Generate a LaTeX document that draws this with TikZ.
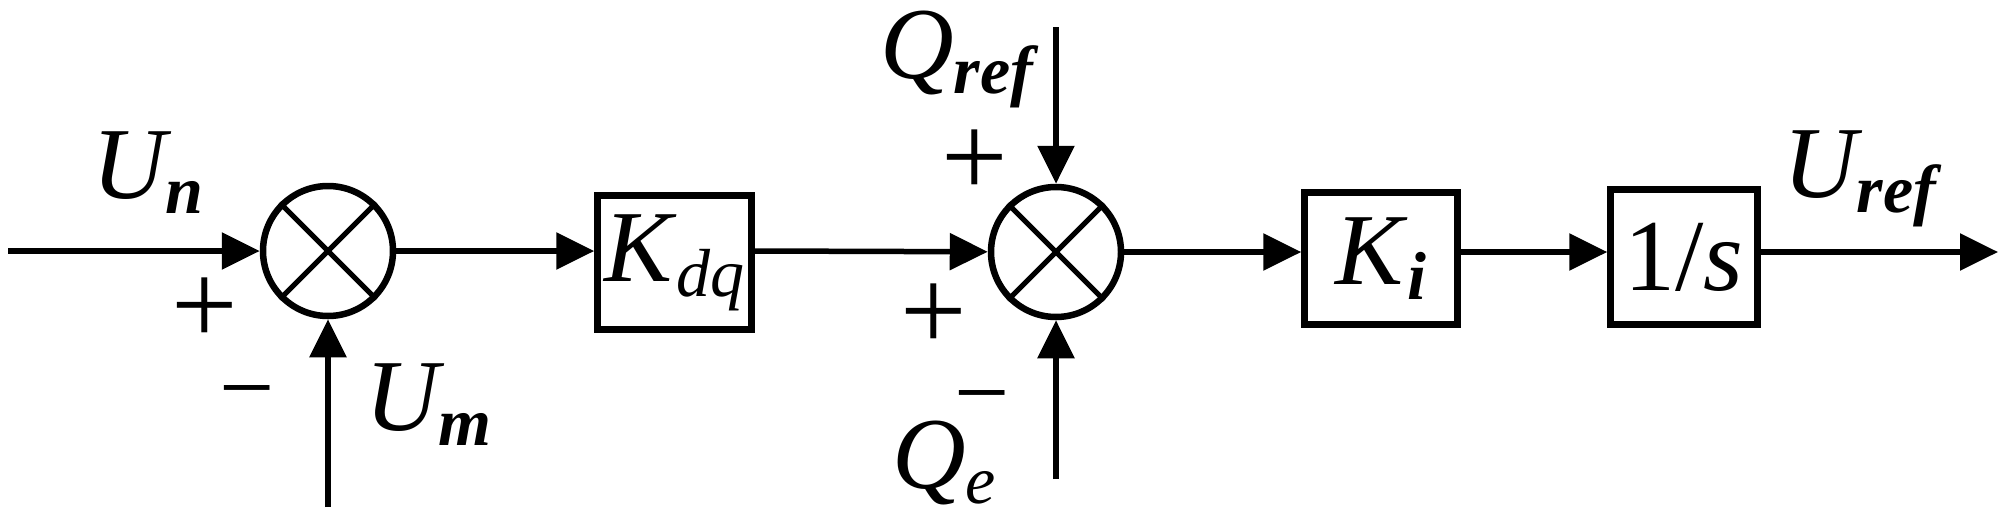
\documentclass[tikz,border=0pt]{standalone}
\usepackage{fontspec}
\setmainfont{Liberation Serif}
\usetikzlibrary{arrows.meta}
\newcommand{\Sb}[1]{\raisebox{-15pt}{\fontsize{68}{70}\selectfont #1}}
\tikzset{
  sig/.style={line width=5.5pt, -{Triangle[length=38pt,width=36pt]}},
  blk/.style={draw, line width=6.5pt, inner sep=0pt, font=\fontsize{102}{104}\selectfont},
  sumnode/.style={draw, circle, line width=6.5pt, minimum size=130pt, inner sep=0pt},
  lbl/.style={anchor=base west, inner sep=0pt, font=\fontsize{102}{104}\selectfont\itshape},
  plussign/.style={anchor=base, inner sep=0pt, font=\fontsize{118}{118}\selectfont},
  minussign/.style={anchor=base, inner sep=0pt, font=\fontsize{98}{98}\selectfont},
}
\begin{document}
\begin{tikzpicture}[x=1pt,y=-1pt]
\useasboundingbox (0,0) rectangle (2000,517);
% summing junctions
\node[sumnode] (c1) at (328,251) {};
\node[sumnode] (c2) at (1056,252) {};
\draw[line width=5pt] (c1.north west) -- (c1.south east) (c1.north east) -- (c1.south west);
\draw[line width=5pt] (c2.north west) -- (c2.south east) (c2.north east) -- (c2.south west);
% blocks
\node[blk, minimum width=154pt, minimum height=134pt] (kdq) at (674.5,262.5) {\textit{K}\Sb{\itshape dq}};
\node[blk, minimum width=153pt, minimum height=132pt] (ki) at (1381,258.5) {\textit{K}\Sb{\itshape\bfseries i}};
\node[blk, minimum width=147pt, minimum height=135pt] (integ) at (1684,257) {1/\textit{s}};
% free ends
\coordinate (in) at (8,251);
\coordinate (umbot) at (328,507);
\coordinate (qtop) at (1056,27);
\coordinate (qbot) at (1056,479);
\coordinate (out) at (1998,252);
% connectors
\draw[sig] (in) -- (c1);
\draw[sig] (umbot) -- (c1);
\draw[sig] (c1) -- (c1 -| kdq.west);
\draw[sig] (c1 -| kdq.east) -- (c2);
\draw[sig] (qtop) -- (c2);
\draw[sig] (qbot) -- (c2);
\draw[sig] (c2) -- (c2 -| ki.west);
\draw[sig] (c2 -| ki.east) -- (c2 -| integ.west);
\draw[sig] (c2 -| integ.east) -- (out);
% labels
\node[lbl] (un) at (92,198) {U\Sb{\bfseries n}};
\node[lbl] (um) at (365,430) {U\Sb{\bfseries m}};
\node[lbl] (qref) at (880,78) {Q\Sb{\bfseries ref}};
\node[lbl] (qe) at (892,488) {Q\Sb{e}};
\node[lbl] (uref) at (1783,197) {U\Sb{\bfseries ref}};
% signs
\node[plussign] (p1) at (205,344) {+};
\node[plussign] (p2) at (975,196) {+};
\node[plussign] (p3) at (934,350) {+};
\node[minussign] (m1) at (247,420) {−};
\node[minussign] (m2) at (982,425) {−};
\end{tikzpicture}
\end{document}
